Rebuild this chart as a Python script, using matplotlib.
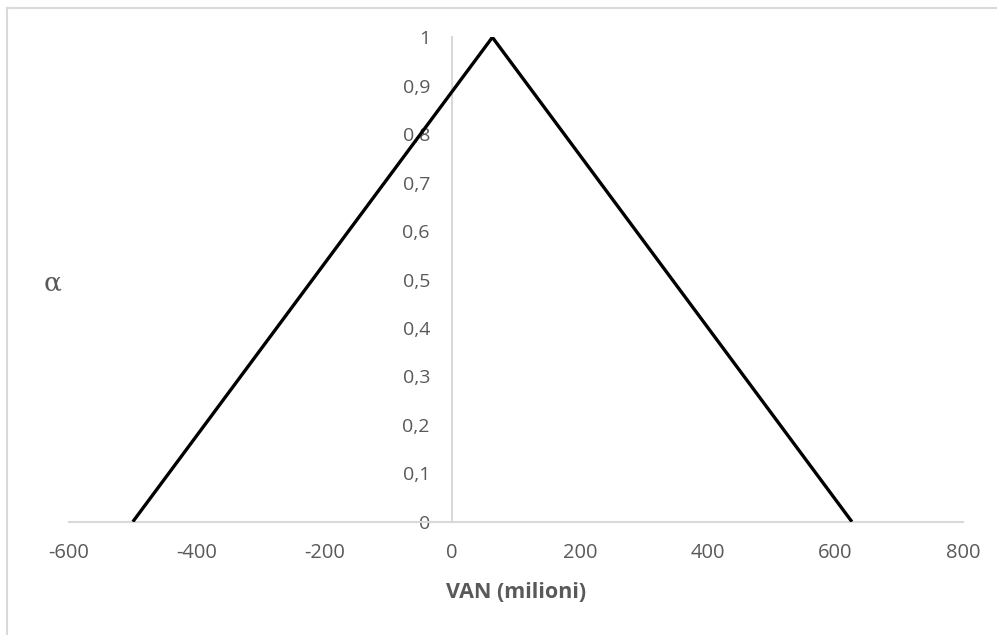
import matplotlib
matplotlib.use("Agg")
import matplotlib.pyplot as plt
from matplotlib.lines import Line2D

# Triangular membership function of the NPV (VAN)
van = [-500, 63, 626]
alpha = [0, 1, 0]

x_ticks = [-600, -400, -200, 0, 200, 400, 600, 800]
y_ticks = [0, 0.1, 0.2, 0.3, 0.4, 0.5, 0.6, 0.7, 0.8, 0.9, 1]
y_tick_labels = ["0", "0,1", "0,2", "0,3", "0,4", "0,5", "0,6", "0,7", "0,8", "0,9", "1"]

W, H = 997, 635
fig = plt.figure(figsize=(W / 100, H / 100), dpi=100)
fig.patch.set_facecolor("white")

ax = fig.add_axes([69 / W, (H - 521.7) / H, (963 - 69) / W, (521.7 - 37.3) / H])
ax.plot(van, alpha, color="black", linewidth=2.4, solid_capstyle="butt", zorder=3)

ax.set_xlim(-600, 800)
ax.set_ylim(0, 1)
ax.set_xticks(x_ticks)
ax.set_xticklabels([str(v) for v in x_ticks])
ax.set_yticks(y_ticks)
ax.set_yticklabels(y_tick_labels)

grey = "#d9d9d9"
text_col = "#595959"
for side in ("top", "right"):
    ax.spines[side].set_visible(False)
ax.spines["left"].set_position(("data", 0))
ax.spines["left"].set_color(grey)
ax.spines["left"].set_linewidth(1.5)
ax.spines["bottom"].set_color(grey)
ax.spines["bottom"].set_linewidth(1.5)

font = "Open Sans"
ax.tick_params(axis="x", length=0, pad=15, labelsize=14.5, labelcolor=text_col)
ax.tick_params(axis="y", length=0, pad=16, labelsize=14, labelcolor=text_col)
for lbl in ax.get_xticklabels() + ax.get_yticklabels():
    lbl.set_fontfamily(font)

fig.text(516 / W, 1 - 592 / H, "VAN (milioni)", ha="center", va="center",
         fontsize=15.5, fontweight="bold", color=text_col, family=font)
fig.text(53 / W, 1 - 283 / H, "α", ha="center", va="center",
         fontsize=19, color=text_col, family="DejaVu Serif")

# chart area frame (left and top edges)
fig.add_artist(Line2D([6.5 / W, 6.5 / W], [0, 1 - 8 / H], color=grey, linewidth=1.5,
                      transform=fig.transFigure))
fig.add_artist(Line2D([6.5 / W, 1], [1 - 8 / H, 1 - 8 / H], color=grey, linewidth=1.5,
                      transform=fig.transFigure))

fig.savefig("out.png", dpi=100, facecolor="white")
